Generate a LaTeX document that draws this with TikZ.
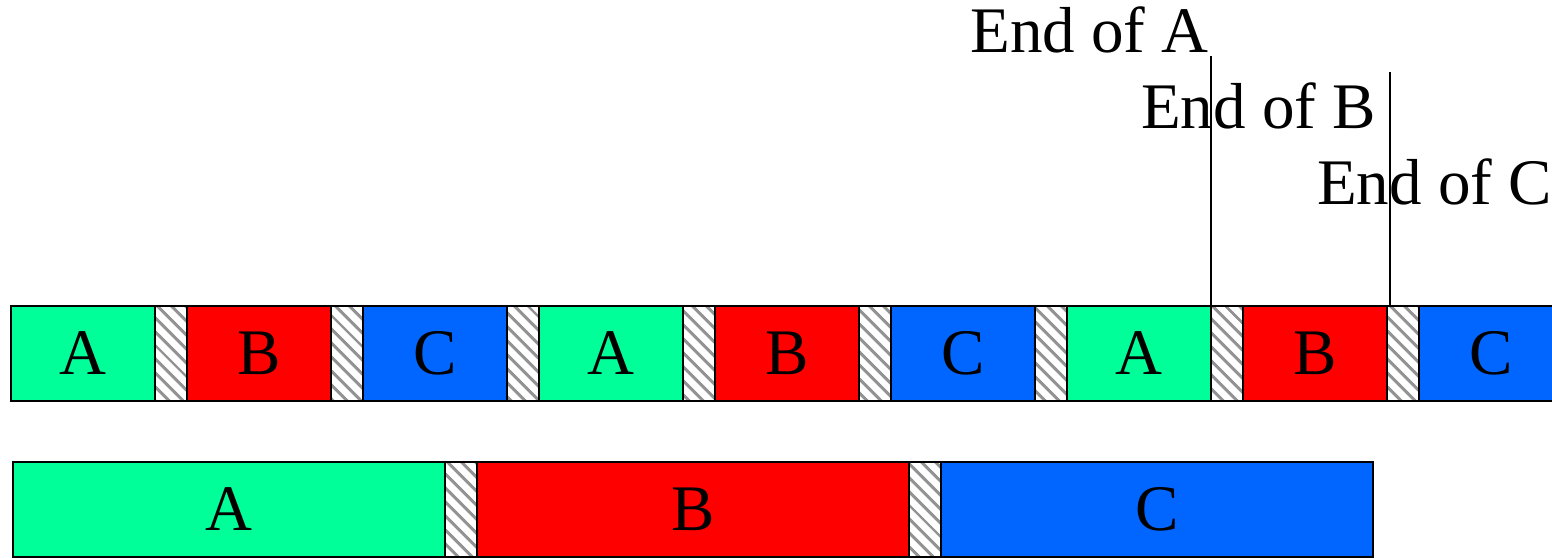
\documentclass[tikz,border=0pt]{standalone}
\usepackage{fontspec}
\setmainfont{Liberation Serif}
\usepackage{xcolor}
\usetikzlibrary{positioning, patterns.meta}

\definecolor{colA}{RGB}{0,255,153}
\definecolor{colB}{RGB}{255,0,0}
\definecolor{colC}{RGB}{0,102,255}

\begin{document}
\begin{tikzpicture}[x=1pt, y=1pt,
    font=\fontsize{65}{78}\selectfont,
    slot/.style={draw, line width=2pt, fill=#1, inner sep=0pt, outer sep=0pt,
        minimum width=144pt, minimum height=95pt},
    wideslot/.style={slot=#1, minimum width=432pt},
    gap/.style={draw, line width=2pt, inner sep=0pt, outer sep=0pt,
        minimum width=32pt, minimum height=95pt,
        pattern={Lines[angle=-45, distance=10.5pt, line width=3.5pt]},
        pattern color=gray!85},
    endlabel/.style={anchor=base east, inner sep=0pt}]

    \useasboundingbox (0,0) rectangle (1552,557);

    % =================================================================
    % 1. HÀNG TRÊN: CÁC LÁT THỜI GIAN XEN KẼ
    % =================================================================
    \node[slot=colA, anchor=west] (top1) at (11,203.5) {A};
    \foreach \lab [count=\i from 2] in {B,C,A,B,C,A,B,C} {
        \pgfmathtruncatemacro\prev{\i-1}
        \node[gap, right=0pt of top\prev] (topgap\prev) {};
        \node[slot=col\lab, right=0pt of topgap\prev] (top\i) {\lab};
    }

    % =================================================================
    % 2. HÀNG DƯỚI: CHẠY LẦN LƯỢT TỪNG TÁC VỤ
    % =================================================================
    \node[wideslot=colA, anchor=west] (bot1) at (13,47.5) {A};
    \node[gap, right=0pt of bot1] (botgap1) {};
    \node[wideslot=colB, right=0pt of botgap1] (bot2) {B};
    \node[gap, right=0pt of bot2] (botgap2) {};
    \node[wideslot=colC, right=0pt of botgap2] (bot3) {C};

    % =================================================================
    % 3. CÁC MỐC KẾT THÚC
    % =================================================================
    \coordinate (endA) at (1211,501);
    \coordinate (endB) at (1390,485);
    \draw[line width=2pt] (top7.north east) -- (endA);
    \draw[line width=2pt] ([xshift=3pt]top8.north east) -- (endB);

    \node[endlabel] (labA) at (1209,504) {End of A};
    \node[endlabel] (labB) at (1376,428) {End of B};
    \node[endlabel] (labC) at (1552,352) {End of C};

\end{tikzpicture}
\end{document}
